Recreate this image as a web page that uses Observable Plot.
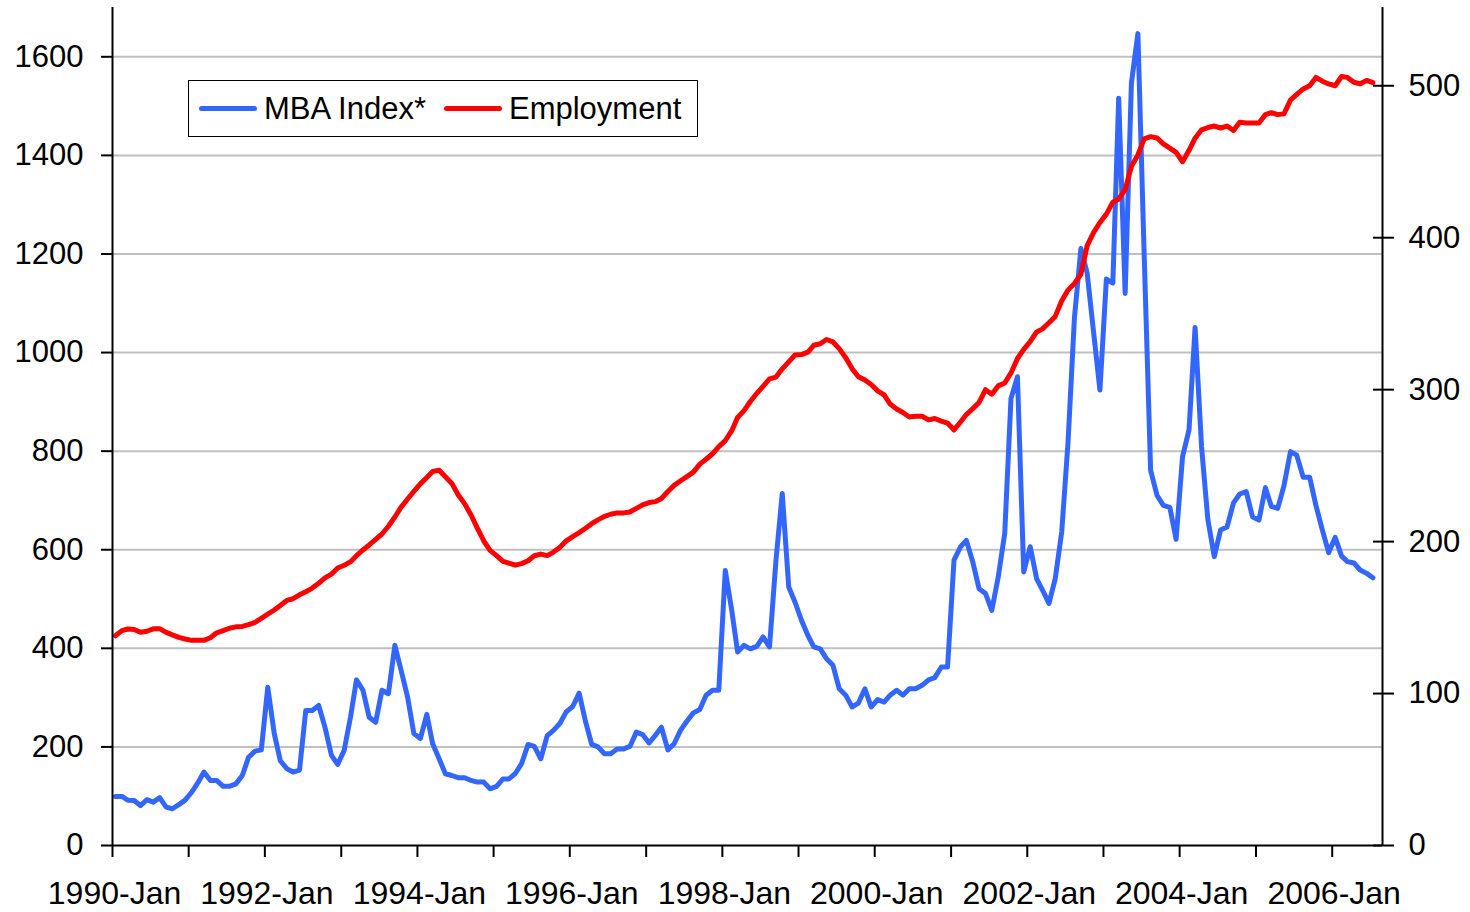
<!DOCTYPE html>
<html><head><meta charset="utf-8">
<script src="https://cdn.jsdelivr.net/npm/d3@7"></script>
<script src="https://cdn.jsdelivr.net/npm/@observablehq/plot@0.6"></script>
<style>
html,body{margin:0;padding:0;background:#fff;overflow:hidden;}
#wrap{position:relative;width:1470px;height:912px;font-family:"Liberation Sans",Arial,sans-serif;}
#legend{position:absolute;left:188px;top:80px;width:510px;height:57px;border:1.5px solid #000;background:#fff;display:flex;align-items:center;font-size:31px;color:#000;box-sizing:border-box;padding-left:10px;white-space:nowrap;}
#legend .sw{display:inline-block;height:5px;border-radius:3px;width:58px;margin-right:7px;}
#legend .item{display:flex;align-items:center;margin-right:18px;}
</style></head><body><div id="wrap"><div id="legend"></div></div>
<script>
// months from Jan 1990 to Jul 2006
const startYear = 1990;
const mbaIndex = [
  99.5, 99.5, 92, 91.4, 81, 93, 88, 97, 78, 74.5, 83, 92,            // 1990
  108, 128, 149, 132, 132, 120, 120, 125, 142, 179, 191.5, 194,      // 1991
  321, 227, 172, 156, 149, 153, 274, 274, 284, 240, 183, 164.5,      // 1992
  193, 262, 336, 315, 260, 250, 315, 308, 406, 355, 301, 227,        // 1993
  217, 266, 206.5, 176, 145.6, 142, 137.5, 137.5, 132, 128.6, 128.6, 115, // 1994
  120, 135, 135, 146, 166, 205, 201, 176, 223, 233.5, 248, 271,      // 1995
  282, 309, 254, 205, 200, 186, 186, 196, 196, 201, 230, 225,        // 1996
  208, 224, 240, 194, 206.5, 234, 252, 269, 276, 305, 315, 315,      // 1997
  558, 477, 392.5, 406, 399, 404, 423, 403, 579, 714, 524.5, 494,    // 1998
  457, 426, 403, 399, 379, 365.5, 318, 305, 281, 289, 318, 281,      // 1999
  296, 291, 305, 315, 305, 318, 318, 325, 336, 340.5, 362, 362,      // 2000
  579, 606, 619, 575, 521, 511, 477, 545, 633, 907, 951, 555,        // 2001
  606, 541, 518, 491, 541.5, 636, 816, 1071, 1211, 1161, 1040, 924,  // 2002
  1149, 1141, 1516, 1120, 1547, 1647, 1200, 761, 710, 690, 686, 621, // 2003
  789, 843, 1051, 809, 662, 586, 640, 646, 695, 713, 718, 667,       // 2004
  660, 726, 688, 684, 730, 799, 792, 747, 747, 690, 640, 594,        // 2005
  625, 587, 576, 573, 559, 552, 543                                  // 2006
];
const employment = [
  138, 141.4, 142.5, 142.2, 140.3, 141, 142.6, 142.7, 140.3, 138.6, 137, 135.9,
  135, 135, 135, 136.7, 140, 141.4, 143, 143.9, 144.2, 145.4, 146.9, 149.5,
  152.2, 155, 158, 161.3, 162.4, 165, 167, 169.4, 172.6, 176.1, 178.6, 182.6,
  184.4, 186.8, 190.7, 194.5, 197.8, 201.5, 205, 210.1, 216.2, 222.7, 228, 233,
  238, 242.2, 246.2, 247, 242.7, 238.3, 230.8, 225, 217.5, 208.9, 200.4, 194.2,
  190.8, 187, 185.8, 184.5, 185.5, 187.4, 190.7, 191.8, 190.8, 193.1, 196.3, 200.5,
  203.3, 205.9, 208.6, 211.8, 214.3, 216.6, 218, 218.9, 218.9, 219.5, 221.9, 224.2,
  225.7, 226.3, 228.4, 233, 237, 240, 242.8, 245.7, 251, 254.2, 257.8, 262.5,
  266.5, 273, 281.7, 286.2, 292.2, 297.6, 302.2, 307.1, 308.3, 313.7, 318.3, 322.8,
  323.1, 324.7, 329.2, 330.2, 333, 331.4, 327, 321, 313.7, 308.5, 306.3, 303.4,
  299.2, 296.5, 290.5, 287.3, 285, 282, 282.5, 282.5, 280.1, 281, 279.3, 278,
  273.5, 278.7, 283.6, 287.5, 291.6, 300, 297, 302.5, 304.4, 311, 320.5, 326.5,
  331.7, 338, 340, 344, 348.2, 358.5, 365.5, 369.9, 375.9, 394.8, 403.5, 410,
  415.5, 423.4, 425.5, 431.7, 447, 454.5, 465, 466.5, 465.6, 461.8, 459, 456.2,
  450, 457.5, 465.5, 471, 472.5, 473.5, 472.2, 473.5, 470.5, 476, 475.5, 475.5,
  475.5, 481, 482.3, 481, 481.5, 490.5, 494.3, 497.9, 500, 505.5, 503, 501.2,
  500, 506.1, 505.5, 502.3, 501.3, 503.5, 502
];
const leftTicks = [0, 200, 400, 600, 800, 1000, 1200, 1400, 1600];
const rightTicks = [0, 100, 200, 300, 400, 500];
const tickYears = [1990,1991,1992,1993,1994,1995,1996,1997,1998,1999,2000,2001,2002,2003,2004,2005,2006];
const labelYears = [1990,1992,1994,1996,1998,2000,2002,2004,2006];
const seriesNames = ["MBA Index*", "Employment"];
const seriesColors = ["#3366ff", "#ff0000"];
const leftMax = 1700, rightMax = 551.5;

const k = leftMax / rightMax;
const n = Math.min(mbaIndex.length, employment.length);
const rows = d3.range(n).map(i => ({
  date: new Date(Date.UTC(startYear, i, 15)),
  mba: mbaIndex[i],
  emp: employment[i]
}));
const yearDate = y => new Date(Date.UTC(y, 0, 1));
const xStart = yearDate(1990), xEnd = new Date(Date.UTC(2006, 7, 30));
const font = '"Liberation Sans", Arial, sans-serif';

const chart = Plot.plot({
  width: 1470, height: 912,
  marginLeft: 112, marginRight: 88, marginTop: 7, marginBottom: 67,
  style: {fontFamily: font, fontSize: "31px", color: "#000", background: "transparent", overflow: "visible"},
  x: {type: "utc", domain: [xStart, xEnd], label: null},
  y: {domain: [0, leftMax], label: null},
  marks: [
    Plot.gridY(leftTicks.filter(d => d > 0), {stroke: "#c0c0c0", strokeOpacity: 1, strokeWidth: 2}),
    Plot.lineY(rows, {x: "date", y: "mba", stroke: seriesColors[0], strokeWidth: 5, strokeLinejoin: "round", strokeLinecap: "round"}),
    Plot.lineY(rows, {x: "date", y: d => d.emp * k, stroke: seriesColors[1], strokeWidth: 5, strokeLinejoin: "round", strokeLinecap: "round"}),
    Plot.ruleX([xStart], {stroke: "#000", strokeWidth: 2}),
    Plot.ruleX([xEnd], {stroke: "#000", strokeWidth: 2}),
    Plot.ruleY([0], {stroke: "#000", strokeWidth: 2}),
    Plot.axisY(leftTicks, {anchor: "left", tickSize: 11, tickPadding: 18, strokeWidth: 2, tickFormat: d => String(d)}),
    Plot.axisY(rightTicks.map(v => v * k), {anchor: "right", tickSize: 21, dx: -10, strokeWidth: 2, tickFormat: () => ""}),
    Plot.axisY(rightTicks.map(v => v * k), {anchor: "right", tickSize: 0, tickPadding: 26, tickFormat: d => String(Math.round(d / k))}),
    Plot.axisX(tickYears.map(yearDate), {anchor: "bottom", tickSize: 12, strokeWidth: 2, tickFormat: () => ""}),
    Plot.axisX(labelYears.map(yearDate), {anchor: "bottom", tickSize: 0, tickPadding: 36, dx: 2, fontSize: 32, tickFormat: d => d.getUTCFullYear() + "-Jan"})
  ]
});
const wrap = document.getElementById("wrap");
wrap.insertBefore(chart, wrap.firstChild);

const legend = document.getElementById("legend");
seriesNames.forEach((name, i) => {
  const item = document.createElement("span");
  item.className = "item";
  const sw = document.createElement("span");
  sw.className = "sw";
  sw.style.background = seriesColors[i];
  item.appendChild(sw);
  item.appendChild(document.createTextNode(name));
  legend.appendChild(item);
});
</script>
</body></html>
